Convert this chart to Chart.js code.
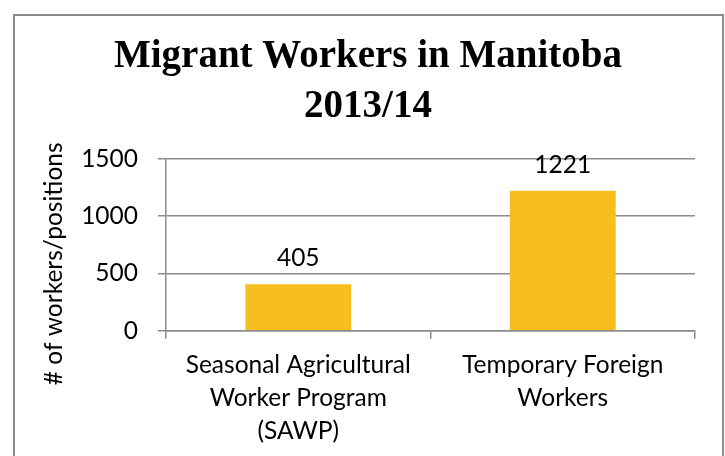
<!DOCTYPE html>
<html>
<head>
<meta charset="utf-8">
<script src="https://cdn.jsdelivr.net/npm/chart.js@4"></script>
<style>
    body { margin: 0; background: #fff; }
    #wrap { position: relative; width: 725px; height: 456px; overflow: hidden; }
    #frame { position: absolute; left: 13px; top: 14px; right: 1px; height: 520px;
             border: 2px solid #8c8c8c; box-sizing: border-box; }
    #myChart { position: absolute; left: 0; top: 0; }
</style>
</head>
<body>
<div id="wrap">
    <div id="frame"></div>
    <canvas id="myChart" width="725" height="456"></canvas>
</div>
<script>
// Data
const categories = [
    ['Seasonal Agricultural', 'Worker Program', '(SAWP)'],
    ['Temporary Foreign', 'Workers']
];
const workers = [405, 1221];
const yTicks = [0, 500, 1000, 1500];

const titleLines = ['Migrant Workers in Manitoba', '2013/14'];
const yTitle = '# of workers/positions';

const labelFont = '24.5px Lato';

/**
 * Value labels above each bar
 */
const barLabels = {
    id: 'barLabels',
    afterDatasetsDraw(chart) {
        let ctx = chart.ctx;
        ctx.save();
        ctx.font = labelFont;
        ctx.fillStyle = '#000';
        ctx.textAlign = 'center';
        ctx.textBaseline = 'middle';
        chart.getDatasetMeta(0).data.forEach((bar, i) => {
            ctx.fillText(String(workers[i]), bar.x, bar.y - 26);
        });
        ctx.restore();
    }
};

/**
 * Axis title on the left, placed a little lower than centre like the original
 */
const yAxisTitle = {
    id: 'yAxisTitle',
    afterDraw(chart) {
        let ctx = chart.ctx;
        let area = chart.chartArea;
        ctx.save();
        ctx.font = labelFont;
        ctx.fillStyle = '#000';
        ctx.textAlign = 'center';
        ctx.textBaseline = 'middle';
        ctx.translate(54, (area.top + area.bottom) / 2 + 19);
        ctx.rotate(-Math.PI / 2);
        ctx.fillText(yTitle, 0, 0);
        ctx.restore();
    }
};

var ctx = document.getElementById('myChart').getContext('2d');
var myChart = new Chart(ctx, {
    type: 'bar',
    data: {
        labels: categories,
        datasets: [{
            label: 'Workers',
            data: workers,
            backgroundColor: '#F8BE20',
            borderWidth: 0,
            categoryPercentage: 1,
            barPercentage: 0.4
        }]
    },
    options: {
        responsive: false,
        animation: false,
        layout: {
            padding: { left: 41, right: 30, top: 0, bottom: -2 }
        },
        plugins: {
            legend: { display: false },
            tooltip: { enabled: false },
            title: {
                display: true,
                text: titleLines,
                color: '#000',
                font: { family: 'Liberation Serif', size: 39, weight: 'bold', lineHeight: 1.28 },
                padding: { top: 32, bottom: 27 }
            }
        },
        scales: {
            x: {
                grid: {
                    drawOnChartArea: false,
                    drawTicks: true,
                    tickLength: 8,
                    offset: true,
                    color: '#8c8c8c',
                    lineWidth: 1.5
                },
                border: { display: true, color: '#8c8c8c', width: 1.5 },
                ticks: {
                    color: '#000',
                    font: { family: 'Lato', size: 24.5, lineHeight: 1.35 },
                    maxRotation: 0,
                    autoSkip: false,
                    padding: 10
                }
            },
            y: {
                min: yTicks[0],
                max: yTicks[yTicks.length - 1],
                afterBuildTicks: (scale) => {
                    scale.ticks = yTicks.map(v => ({ value: v }));
                },
                // room for the axis title, which the plugin draws
                afterFit: (scale) => {
                    scale.width = 125;
                },
                grid: {
                    color: '#8c8c8c',
                    lineWidth: 1.5,
                    tickLength: 8
                },
                border: { display: true, color: '#8c8c8c', width: 1.5 },
                ticks: {
                    color: '#000',
                    font: { family: 'Lato', size: 24.5 },
                    padding: 20,
                    callback: (value) => String(value)
                }
            }
        }
    },
    plugins: [barLabels, yAxisTitle]
});
</script>
</body>
</html>
